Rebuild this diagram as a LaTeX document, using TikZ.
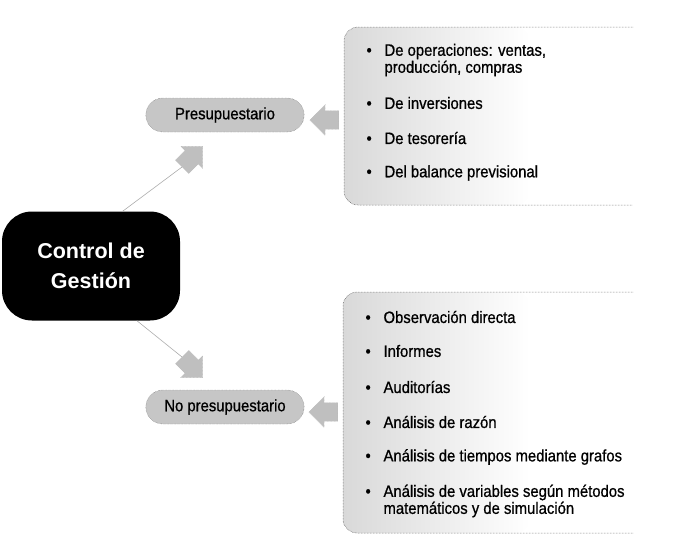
\documentclass[tikz,border=0pt]{standalone}
\usepackage{fontspec}
\setmainfont{Liberation Sans}
\newfontfamily\itemfont[FakeStretch=0.9,FakeBold=0.8]{Liberation Sans}
\usetikzlibrary{shapes.arrows,shapes.misc,positioning,calc}
\newcommand{\itembul}{\makebox[18pt][l]{\textbullet}}
\newcommand{\itemind}{\hspace*{18pt}}

\begin{document}
\begin{tikzpicture}[
            x=1pt, y=-1pt,
            every node/.style={on grid},
            root/.style={fill=black,text=white,rounded corners=30pt,minimum width=178pt,minimum height=109pt,align=center,font=\fontsize{21.5}{30}\selectfont\bfseries},
            pill/.style={rounded rectangle,fill=gray!45,draw=black!60,densely dotted,minimum width=165pt,minimum height=34pt,font=\itemfont\fontsize{16.5}{17}\selectfont},
            fat/.style={single arrow,shape border uses incircle,fill=gray!50,draw=gray!60,densely dotted,inner sep=6.5pt,minimum height=29pt,single arrow head extend=6pt},
            item/.style={anchor=west,align=left,font=\itemfont\fontsize{16.5}{17}\selectfont},
            link/.style={draw=gray!65,line width=0.6pt},
            panel/.style={rounded corners=14pt,draw=black!70,densely dotted,line width=0.5pt}
        ]
        \useasboundingbox (0,0) rectangle (675,541);

        % Draw panels %
        \shade[rounded corners=14pt,left color=gray!30,right color=white] (530,27) -- (344,27) -- (344,205) -- (530,205) -- cycle;
        \draw[panel] (633,27) -- (344,27) -- (344,205) -- (633,205);
        \shade[rounded corners=14pt,left color=gray!30,right color=white] (530,292) -- (343,292) -- (343,533) -- (530,533) -- cycle;
        \draw[panel] (633,292) -- (343,292) -- (343,533) -- (633,533);

        % Draw root %
        \node[root] (ctrl) at (91,266) {Control de\\Gestión};

        % Draw branches %
        \node[pill] (pres) at (225,115) {Presupuestario};
        \node[pill] (nopres) at (225,407) {No presupuestario};

        % Draw arrows %
        \node[fat,shape border rotate=45] (up) at (189,160) {};
        \node[fat,shape border rotate=-45] (dn) at (189,364) {};
        \draw[link] (ctrl.60) -- (up.tail);
        \draw[link] (ctrl.-50) -- (dn.tail);
        \node[fat,shape border rotate=180] (back1) at (329,120) {};
        \node[fat,shape border rotate=180] (back2) at (328,412) {};

        % Presupuestario items %
        \node[item] (op) at (363,60) {\itembul De operaciones: ventas,\\\itemind producción, compras};
        \node[item,below=43pt of op.west,anchor=west] (inv) {\itembul De inversiones};
        \node[item,below=35pt of inv.west,anchor=west] (tes) {\itembul De tesorería};
        \node[item,below=35pt of tes.west,anchor=west] (bal) {\itembul Del balance previsional};

        % No presupuestario items %
        \node[item] (obs) at (362,317) {\itembul Observación directa};
        \node[item,below=34pt of obs.west,anchor=west] (inf) {\itembul Informes};
        \node[item,below=36pt of inf.west,anchor=west] (aud) {\itembul Auditorías};
        \node[item,below=35pt of aud.west,anchor=west] (raz) {\itembul Análisis de razón};
        \node[item,below=35pt of raz.west,anchor=west] (tie) {\itembul Análisis de tiempos mediante grafos};
        \node[item,below=44pt of tie.west,anchor=west] (var) {\itembul Análisis de variables según métodos\\\itemind matemáticos y de simulación};
\end{tikzpicture}
\end{document}
